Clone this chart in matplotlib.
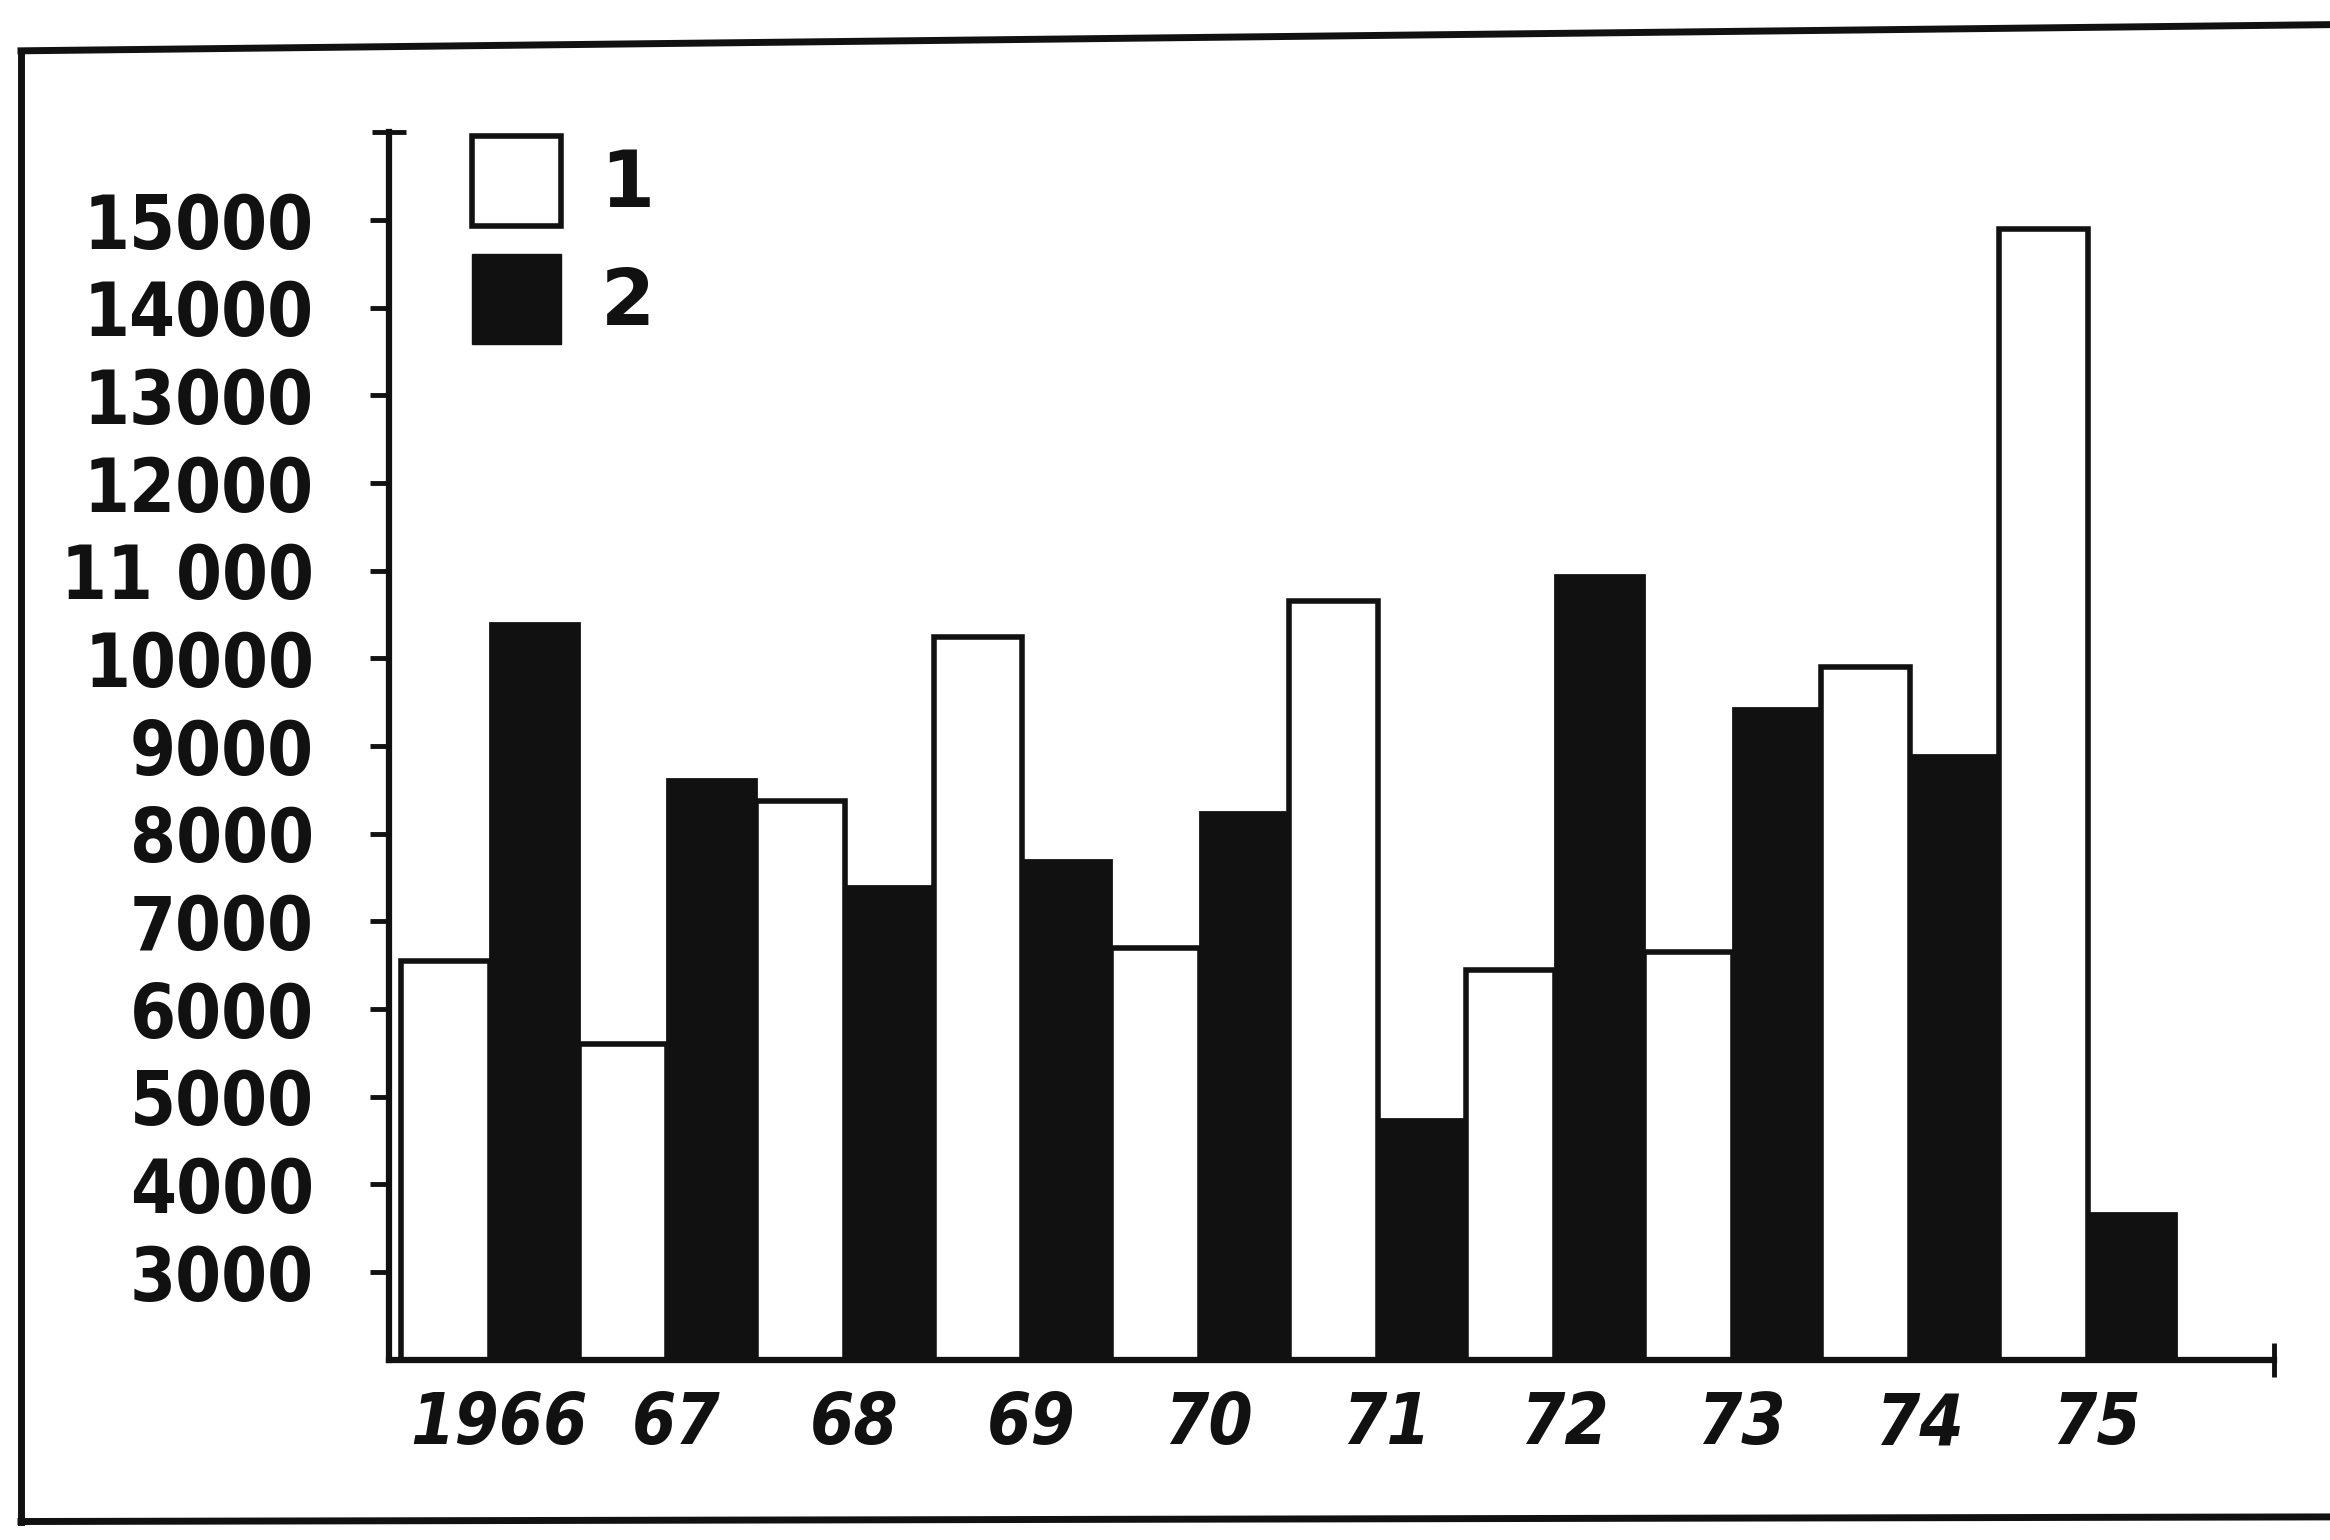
import numpy as np
import matplotlib.pyplot as plt
from matplotlib.patches import Patch
from matplotlib.lines import Line2D

years = ["1966", "67", "68", "69", "70", "71", "72", "73", "74", "75"]
series_1 = [6550, 5600, 8370, 10250, 6700, 10650, 6450, 6650, 9900, 14900]
series_2 = [10400, 8630, 7400, 7700, 8250, 4750, 10950, 9430, 8900, 3670]
y_ticks = [3000, 4000, 5000, 6000, 7000, 8000, 9000, 10000, 11000, 12000, 13000, 14000, 15000]
y_tick_labels = ["3000", "4000", "5000", "6000", "7000", "8000", "9000", "10000",
                 "11 000", "12000", "13000", "14000", "15000"]
legend_labels = ["1", "2"]

plt.rcParams['font.family'] = ['DejaVu Sans']
ink = "#111111"

fig = plt.figure(figsize=(23.3, 15.4), dpi=100)
ax = fig.add_axes([0.167, 0.117, 0.809, 0.797])

x = np.arange(len(years)) * 2
ax.bar(x + 0.5, series_1, width=1, color="white", edgecolor=ink, linewidth=4)
ax.bar(x + 1.5, series_2, width=1, color=ink, edgecolor=ink, linewidth=2)

ax.set_ylim(2000, 16000)
ax.set_xlim(-0.135, 21.1)

for s in ["top", "right"]:
    ax.spines[s].set_visible(False)
for s in ["left", "bottom"]:
    ax.spines[s].set_linewidth(4.5)
    ax.spines[s].set_color(ink)

ax.set_yticks(y_ticks)
ax.set_yticklabels(y_tick_labels, fontweight="bold", fontstretch="condensed")
ax.set_xticks(x + 1.1)
ax.set_xticklabels(years, fontstyle="italic", fontweight="bold", fontstretch="condensed")
ax.tick_params(axis="y", direction="out", length=14, width=3.5, pad=40, labelsize=53, colors=ink)
ax.tick_params(axis="x", length=0, pad=22, labelsize=51, colors=ink)

# end caps on the axes
ax.set_yticks([16000], minor=True)
ax.set_xticks([21.1], minor=True)
ax.tick_params(which="minor", direction="inout", length=24, width=3.5, color=ink)

handles = [Patch(facecolor="white", edgecolor=ink, linewidth=4),
           Patch(facecolor=ink, edgecolor=ink)]
leg = ax.legend(handles, legend_labels, loc="upper left", bbox_to_anchor=(0.044, 0.997),
                frameon=False, fontsize=56, handlelength=1.15, handleheight=1.4,
                handletextpad=0.5, labelspacing=0.36, borderpad=0, borderaxespad=0)
for t in leg.get_texts():
    t.set_fontweight("bold")
    t.set_color(ink)

# frame of the scanned page
fig.add_artist(Line2D([0.009, 0.009], [0.012, 0.967], transform=fig.transFigure, color=ink, lw=5))
fig.add_artist(Line2D([0.009, 1.0], [0.967, 0.984], transform=fig.transFigure, color=ink, lw=5))
fig.add_artist(Line2D([0.009, 1.0], [0.012, 0.015], transform=fig.transFigure, color=ink, lw=5))

fig.savefig("out.png", dpi=100, facecolor="white")
